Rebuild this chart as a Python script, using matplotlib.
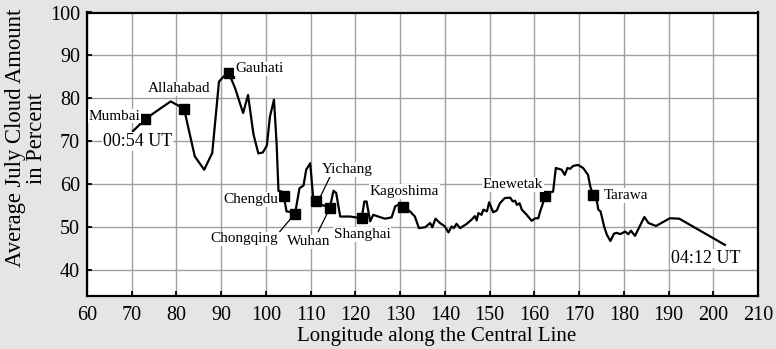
import matplotlib
matplotlib.use("Agg")
import matplotlib.pyplot as plt

plt.rcParams['font.family'] = ['Liberation Serif', 'DejaVu Serif']

# Cloud amount profile along the central line (longitude, percent)
longitude = [70.3, 73.0, 78.7, 81.7, 82.6, 84.1, 86.2, 88.0, 89.5, 90.9, 91.7,
             93.1, 94.9, 96.0, 97.2, 98.3, 99.3, 100.2, 100.9, 101.8, 102.4,
             102.8, 103.5, 104.0, 104.6, 105.8, 106.5, 107.5, 108.4, 109.0,
             109.9, 110.6, 111.3, 112.5, 114.3, 115.1, 115.7, 116.6, 118.8,
             121.4, 122.0, 122.5, 123.3, 124.0, 125.1, 126.6, 128.1, 128.9,
             129.6, 130.6, 132.2, 133.3, 134.2, 135.6, 136.7, 137.2, 137.9,
             138.9, 140.0, 140.8, 141.5, 142.0, 142.6, 143.4, 144.9, 146.0,
             146.7, 147.1, 147.5, 148.2, 148.6, 149.4, 149.9, 150.8, 151.6,
             152.3, 153.4, 154.6, 155.2, 155.7, 156.1, 156.7, 157.2, 158.3,
             159.4, 160.2, 160.9, 161.3, 161.8, 162.4, 163.1, 164.2, 164.8,
             166.1, 166.8, 167.4, 168.0, 168.7, 169.8, 170.9, 172.0, 172.5,
             173.1, 174.0, 174.3, 174.8, 175.6, 176.2, 177.0, 177.8, 178.4,
             179.2, 180.3, 181.0, 181.6, 182.5, 183.6, 184.6, 185.5, 187.2,
             190.3, 192.4, 202.6]
cloud = [72.4, 75.2, 79.3, 77.6, 73.4, 66.5, 63.4, 67.3, 83.9, 85.5, 85.9,
         82.4, 76.6, 80.8, 71.7, 67.2, 67.4, 69.0, 75.8, 79.7, 69.2,
         58.5, 58.3, 57.2, 53.7, 53.5, 53.1, 59.1, 59.7, 63.4,
         64.9, 56.4, 56.2, 55.2, 54.6, 58.5, 58.0, 52.5, 52.5,
         52.1, 56.0, 56.0, 51.4, 52.9, 52.5, 52.0, 52.3, 54.9,
         55.2, 54.8, 53.7, 52.5, 49.8, 50.0, 51.0, 50.0, 52.0,
         51.0, 50.2, 48.8, 50.2, 49.8, 50.8, 49.8, 50.8, 51.8,
         52.6, 51.6, 53.3, 52.9, 54.1, 53.7, 55.8, 53.5, 53.9,
         55.6, 56.8, 56.9, 56.0, 56.2, 55.2, 55.6, 54.1, 52.9,
         51.5, 52.1, 52.1, 53.7, 55.2, 57.2, 58.0, 58.3, 63.8,
         63.4, 62.2, 63.8, 63.6, 64.3, 64.5, 63.8, 62.2, 59.5,
         57.6, 56.0, 54.1, 53.7, 50.2, 48.3, 46.8, 48.5, 48.7,
         48.4, 49.0, 48.4, 49.2, 48.0, 50.3, 52.4, 51.0, 50.3,
         52.1, 52.0, 45.9]

# Cities along the path
cities = ["Mumbai", "Allahabad", "Gauhati", "Chengdu", "Chongqing", "Yichang",
          "Wuhan", "Shanghai", "Kagoshima", "Enewetak", "Tarawa"]
city_lon = [73.0, 81.7, 91.7, 104.0, 106.5, 111.3, 114.3, 121.4, 130.6, 162.4, 173.1]
city_cloud = [75.2, 77.6, 85.9, 57.2, 53.1, 56.2, 54.6, 52.1, 54.8, 57.2, 57.6]
# label centres
label_x = [66.2, 80.5, 98.5, 96.7, 95.1, 118.2, 109.6, 121.5, 131.0, 155.2, 180.4]
label_y = [75.9, 82.2, 86.9, 56.5, 47.3, 63.4, 46.6, 48.3, 58.3, 59.9, 57.4]

x_ticks = list(range(60, 211, 10))
y_ticks = list(range(40, 101, 10))

fig = plt.figure(figsize=(7.76, 3.49), dpi=100)
fig.patch.set_facecolor('#e5e5e5')
ax = fig.add_axes([87 / 776, 1 - 296 / 349, (758 - 87) / 776, (296 - 12.5) / 349])
ax.set_facecolor('white')

ax.set_xlim(60, 210)
ax.set_ylim(34, 100)
ax.set_xticks(x_ticks)
ax.set_yticks(y_ticks)
ax.grid(True, color='#a0a0a0', linewidth=1.0, zorder=0)
ax.set_axisbelow(True)
ax.tick_params(direction='in', length=3.5, width=1.3, labelsize=14.5, color='black')
ax.tick_params(axis='x', pad=7)
ax.tick_params(axis='y', pad=5)
for s in ax.spines.values():
    s.set_linewidth(1.6)
    s.set_color('black')

ax.plot(longitude, cloud, color='black', linewidth=1.6, zorder=3)
ax.plot(city_lon, city_cloud, linestyle='none', marker='s', markersize=6.5,
        color='black', zorder=4)

box = dict(facecolor='white', edgecolor='none', pad=0.6)
for name, lx, ly in zip(cities, label_x, label_y):
    ax.text(lx, ly, name, ha='center', va='center', fontsize=11, bbox=box, zorder=5)

# leader lines
leaders = {"Chongqing": ((103.1, 49.0), (106.1, 52.7)),
           "Wuhan": ((111.7, 49.0), (114.2, 54.3)),
           "Yichang": ((112.2, 57.2), (114.3, 61.7))}
for (x0, y0), (x1, y1) in leaders.values():
    ax.plot([x0, x1], [y0, y1], color='black', linewidth=0.9, zorder=4)

ax.text(71.3, 70.0, "00:54 UT", ha='center', va='center', fontsize=13, bbox=box, zorder=5)
ax.text(198.4, 42.7, "04:12 UT", ha='center', va='center', fontsize=13, bbox=box, zorder=5)

fig.text(436.7 / 776, 1 - 336 / 349, "Longitude along the Central Line",
         ha='center', va='center', fontsize=15)
fig.text(26 / 776, 1 - 138 / 349, "Average July Cloud Amount\nin Percent",
         ha='center', va='center', rotation=90, fontsize=16.3,
         multialignment='center', linespacing=1.0)

fig.savefig("out.png", dpi=100, facecolor=fig.get_facecolor())
